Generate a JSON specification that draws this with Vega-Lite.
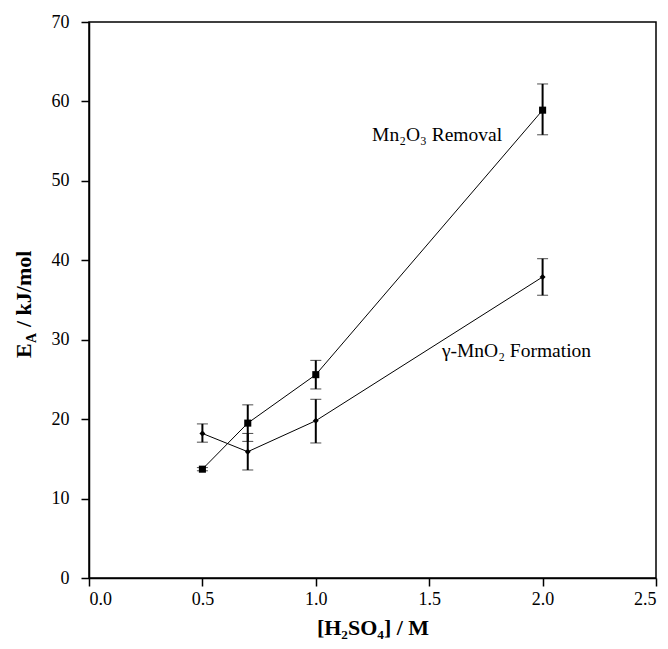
{
  "$schema": "https://vega.github.io/schema/vega-lite/v6.json",
  "width": 567,
  "height": 556,
  "autosize": {"type": "none"},
  "padding": {"left": 89, "top": 22, "right": 12, "bottom": 71},
  "background": "white",
  "config": {
    "font": "Liberation Serif",
    "view": {"stroke": "black", "strokeWidth": 1.5},
    "axis": {"grid": false, "domainColor": "black", "domainWidth": 1.5, "tickColor": "black", "tickWidth": 1.5, "tickSize": 8, "labelFont": "Liberation Serif", "labelFontSize": 18, "labelColor": "black", "titleFont": "Liberation Serif", "titleFontSize": 22, "titleFontWeight": "bold", "titleColor": "black"}
  },
  "datasets": {
    "pts": [
      {"c": 0.5, "e": 13.7, "lo": 13.5, "hi": 13.9, "s": "Mn2O3 Removal"},
      {"c": 0.7, "e": 19.5, "lo": 17.2, "hi": 21.8, "s": "Mn2O3 Removal"},
      {"c": 1.0, "e": 25.6, "lo": 23.8, "hi": 27.4, "s": "Mn2O3 Removal"},
      {"c": 2.0, "e": 58.9, "lo": 55.8, "hi": 62.2, "s": "Mn2O3 Removal"},
      {"c": 0.5, "e": 18.2, "lo": 17.1, "hi": 19.4, "s": "MnO2 Formation"},
      {"c": 0.7, "e": 15.9, "lo": 13.6, "hi": 18.2, "s": "MnO2 Formation"},
      {"c": 1.0, "e": 19.8, "lo": 17.0, "hi": 22.5, "s": "MnO2 Formation"},
      {"c": 2.0, "e": 37.9, "lo": 35.6, "hi": 40.2, "s": "MnO2 Formation"}
    ],
    "labels": [
      {"c": 1.248, "e": 55.8, "t": "Mn₂O₃ Removal"},
      {"c": 1.556, "e": 28.6, "t": "γ-MnO₂ Formation"}
    ],
    "ytitle": [
      {"c": -0.285, "e": 35}
    ]
  },
  "layer": [
    {
      "data": {"name": "pts"},
      "mark": {"type": "errorbar", "ticks": {"size": 11, "color": "black", "strokeWidth": 2}, "rule": {"color": "black", "strokeWidth": 2}},
      "encoding": {
        "x": {"field": "c", "type": "quantitative", "scale": {"domain": [0, 2.5], "nice": false}, "axis": {"values": [0, 0.5, 1, 1.5, 2, 2.5], "format": ".1f", "title": "[H₂SO₄] / M", "labelPadding": 4, "titlePadding": 9, "labelFont": "Liberation Serif", "labelFontSize": 18}},
        "y": {"field": "lo", "type": "quantitative", "scale": {"domain": [0, 70], "nice": false}, "axis": {"values": [0, 10, 20, 30, 40, 50, 60, 70], "title": null, "labelPadding": 12, "labelFont": "Liberation Serif", "labelFontSize": 18}},
        "y2": {"field": "hi"}
      }
    },
    {
      "data": {"name": "pts"},
      "mark": {"type": "line", "color": "black", "strokeWidth": 1},
      "encoding": {
        "x": {"field": "c", "type": "quantitative"},
        "y": {"field": "e", "type": "quantitative"},
        "detail": {"field": "s"}
      }
    },
    {
      "data": {"name": "pts"},
      "mark": {"type": "point", "filled": true, "color": "black", "opacity": 1},
      "encoding": {
        "x": {"field": "c", "type": "quantitative"},
        "y": {"field": "e", "type": "quantitative"},
        "shape": {"field": "s", "type": "nominal", "scale": {"range": ["square", "diamond"]}, "legend": null},
        "size": {"field": "s", "type": "nominal", "scale": {"range": [50, 35]}, "legend": null}
      }
    },
    {
      "data": {"name": "labels"},
      "mark": {"type": "text", "align": "left", "baseline": "middle", "font": "Liberation Serif", "fontSize": 19.5, "color": "black"},
      "encoding": {
        "x": {"field": "c", "type": "quantitative"},
        "y": {"field": "e", "type": "quantitative"},
        "text": {"field": "t"}
      }
    },
    {
      "data": {"name": "ytitle"},
      "mark": {"type": "text", "text": "E", "angle": 270, "align": "left", "baseline": "middle", "dx": -58, "font": "Liberation Serif", "fontSize": 22, "fontWeight": "bold", "color": "black"},
      "encoding": {
        "x": {"field": "c", "type": "quantitative"},
        "y": {"field": "e", "type": "quantitative"}
      }
    },
    {
      "data": {"name": "ytitle"},
      "mark": {"type": "text", "text": "A", "angle": 270, "align": "left", "baseline": "middle", "dx": -43, "dy": 8, "font": "Liberation Serif", "fontSize": 14, "fontWeight": "bold", "color": "black"},
      "encoding": {
        "x": {"field": "c", "type": "quantitative"},
        "y": {"field": "e", "type": "quantitative"}
      }
    },
    {
      "data": {"name": "ytitle"},
      "mark": {"type": "text", "text": "/ kJ/mol", "angle": 270, "align": "left", "baseline": "middle", "dx": -27, "font": "Liberation Serif", "fontSize": 22, "fontWeight": "bold", "color": "black"},
      "encoding": {
        "x": {"field": "c", "type": "quantitative"},
        "y": {"field": "e", "type": "quantitative"}
      }
    }
  ]
}
